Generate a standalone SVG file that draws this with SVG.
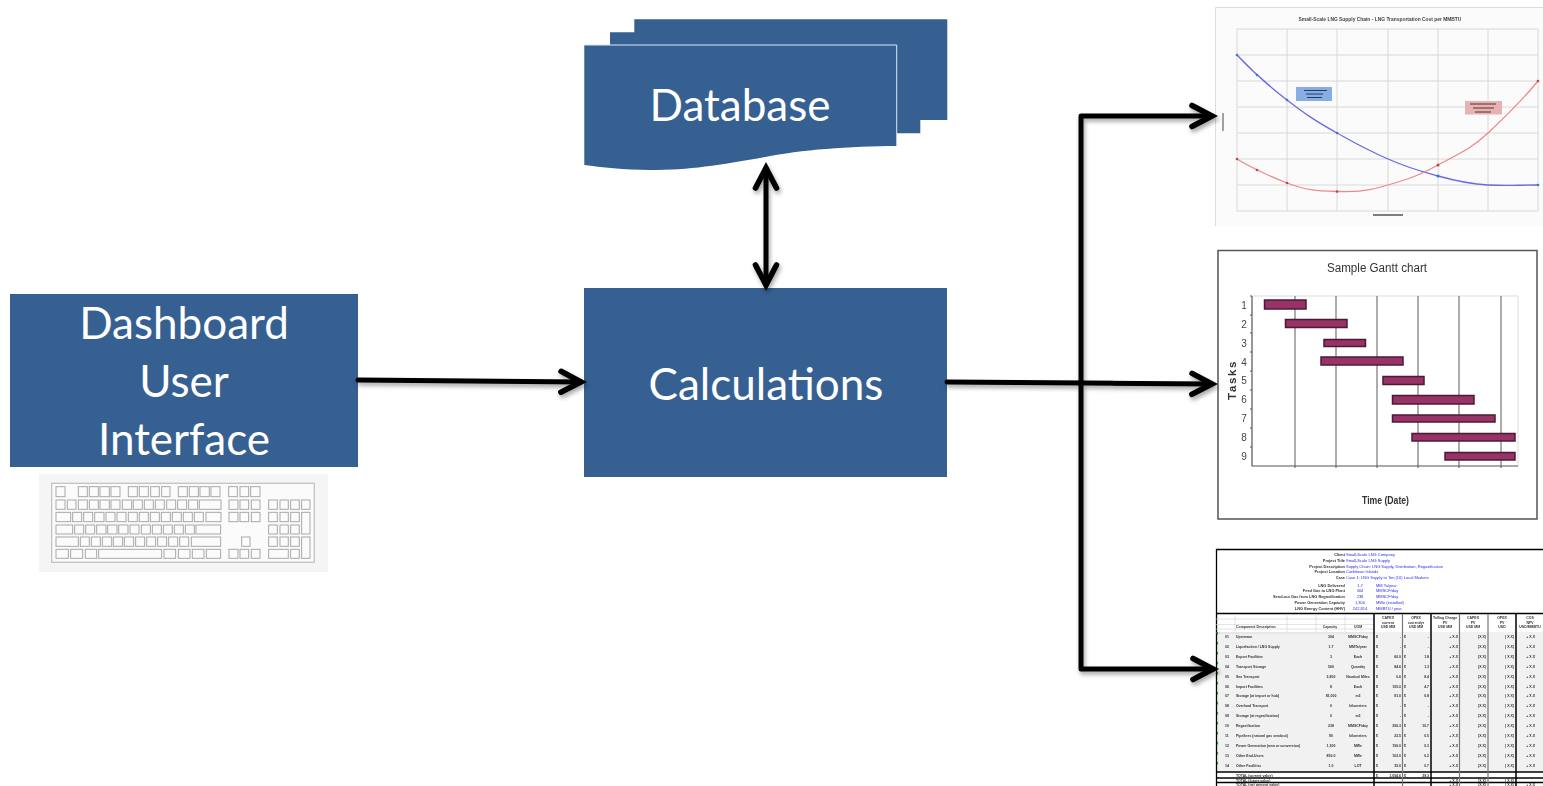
<svg xmlns="http://www.w3.org/2000/svg" width="1543" height="786" viewBox="0 0 1543 786">
<style>
.box{fill:#366092}
.lbl{font-family:Lato,"Open Sans",sans-serif;font-size:44px;fill:#fff;text-anchor:middle}
.wire{fill:none;stroke:#000;stroke-width:5;stroke-linejoin:round;stroke-linecap:round}
.k{fill:none;stroke:#a8a8a8;stroke-width:3}
.grid{stroke:#d8d8d8;stroke-width:1;fill:none}
.bar{fill:#993366;stroke:#4a1b36;stroke-width:1.500}
.gl{stroke:#8a8a8a;stroke-width:1.400}
.gt{font-family:"Liberation Sans",Arial,sans-serif;fill:#333}
.n{font-size:10px;text-anchor:middle;fill:#444}
.s{font-family:"Liberation Sans",Arial,sans-serif;font-size:3.500px;font-weight:700;fill:#333}
.m{text-anchor:middle}.r{text-anchor:end}
.h{font-size:3.900px}.b{fill:#2a2af0;font-size:4px;font-weight:400}
.bl{stroke:#000;stroke-width:1.300;fill:none}.gy{stroke:#777;stroke-width:1.200;fill:none}.lg{stroke:#d0d0d0;stroke-width:.6;fill:none}
</style>
<defs>
<marker id="head" markerUnits="userSpaceOnUse" viewBox="-26 -15 30 30" refX="0" refY="0" markerWidth="30" markerHeight="30" orient="auto-start-reverse" overflow="visible">
<path d="M-20-10.500L0 0L-20 10.500" fill="none" stroke="#000" stroke-width="5.600" stroke-linecap="round" stroke-linejoin="miter"/>
</marker>
<filter id="shadow" x="-10%" y="-10%" width="120%" height="125%"><feDropShadow dx="1.500" dy="3" stdDeviation="2" flood-color="#000" flood-opacity=".35"/></filter>
<filter id="soft" x="-2%" y="-2%" width="104%" height="104%"><feGaussianBlur stdDeviation=".55"/></filter>
<filter id="soft2" x="-2%" y="-2%" width="104%" height="104%"><feGaussianBlur stdDeviation=".4"/></filter>
</defs>
<rect width="1543" height="786" fill="#fff"/>

<g id="chart-cost" filter="url(#soft)">
<rect x="1215" y="7" width="328" height="219" fill="#fbfbfb"/>
<path d="M1215.500 226V7.500H1543" fill="none" stroke="#ddd"/>
<path class="grid" d="M1237 29V211M1287 29V211M1337 29V211M1388 29V211M1438 29V211M1488 29V211M1538 29V211M1237 29H1538M1237 55H1538M1237 81H1538M1237 107H1538M1237 133H1538M1237 159H1538M1237 185H1538M1237 211H1538"/>
<text x="1380" y="21" text-anchor="middle" font-family="Liberation Sans,Arial,sans-serif" font-size="4.900" font-weight="700" fill="#444">Small-Scale LNG Supply Chain - LNG Transportation Cost per MMBTU</text>
<path d="M1237 55C1252 71 1270 87 1287 100S1312 119 1337 133S1365 149 1388 159S1420 171 1438 176S1470 184 1488 185S1520 185 1538 185" fill="none" stroke="#6a6ae4" stroke-width="1.300"/>
<path d="M1237 159C1245 164 1268 176 1287 183S1315 191 1337 191.500S1367 191 1388 185S1420 175 1438 165S1470 150 1488 133S1520 103 1538 81" fill="none" stroke="#ec8a8a" stroke-width="1.300"/>
<g fill="#3d78c8"><circle cx="1237" cy="55" r="1.300"/><circle cx="1257" cy="75" r="1.300"/><circle cx="1287" cy="100" r="1.300"/><circle cx="1337" cy="133" r="1.300"/><circle cx="1438" cy="176" r="1.600"/><circle cx="1538" cy="185" r="1.300"/></g>
<g fill="#c04444"><circle cx="1237" cy="159" r="1.300"/><circle cx="1257" cy="170" r="1.300"/><circle cx="1287" cy="183" r="1.300"/><circle cx="1337" cy="191.500" r="1.300"/><circle cx="1438" cy="165" r="1.500"/><circle cx="1538" cy="81" r="1.300"/></g>
<rect x="1296" y="87" width="36" height="14" fill="#86aee4"/>
<path d="M1304 90.500H1327M1306 94H1323M1307 97.500H1322" stroke="#2c3e60" stroke-width="1"/>
<rect x="1465" y="101" width="37" height="13.500" fill="#e6b2b2"/>
<path d="M1470 104H1496M1473 108H1494M1475 112H1491" stroke="#5c3030" stroke-width="1"/>
<path d="M1223 113V131" stroke="#666" stroke-width="1.200"/>
<path d="M1373 215H1403" stroke="#555" stroke-width="1.500"/>
</g>

<g id="chart-gantt" filter="url(#soft2)">
<rect x="1218" y="250.500" width="319" height="268.500" fill="#fff" stroke="#555" stroke-width="1.500"/>
<text class="gt" x="1377" y="272" font-size="12.500" text-anchor="middle" textLength="100" lengthAdjust="spacingAndGlyphs">Sample Gantt chart</text>
<path d="M1252 296H1518V466" fill="none" stroke="#ddd"/>
<path class="gl" d="M1295 296V466M1336 296V466M1377 296V466M1418 296V466M1459 296V466M1501 296V466"/>
<path d="M1252 296V466H1518" fill="none" stroke="#555" stroke-width="1.200"/>
<path d="M1250 296H1252M1250 315H1252M1250 333H1252M1250 352H1252M1250 371H1252M1250 390H1252M1250 409H1252M1250 428H1252M1250 447H1252M1295 466V468M1336 466V468M1377 466V468M1418 466V468M1459 466V468M1501 466V468" stroke="#555" stroke-width="1"/>
<rect class="bar" x="1264.500" y="300" width="41.500" height="9"/>
<rect class="bar" x="1285.500" y="319.500" width="61.500" height="8"/>
<rect class="bar" x="1324" y="339.500" width="41.500" height="7"/>
<rect class="bar" x="1321" y="357" width="82" height="8"/>
<rect class="bar" x="1383" y="376.500" width="41" height="8"/>
<rect class="bar" x="1392.500" y="395.500" width="81.500" height="8.500"/>
<rect class="bar" x="1392.500" y="415" width="102.500" height="7"/>
<rect class="bar" x="1412" y="433.500" width="103" height="7.500"/>
<rect class="bar" x="1445" y="452.500" width="70" height="7.500"/>
<g class="gt">
<text class="n" x="1244" y="309">1</text><text class="n" x="1244" y="328">2</text><text class="n" x="1244" y="347">3</text><text class="n" x="1244" y="366">4</text><text class="n" x="1244" y="384">5</text><text class="n" x="1244" y="403">6</text><text class="n" x="1244" y="422">7</text><text class="n" x="1244" y="441">8</text><text class="n" x="1244" y="460">9</text>
</g>
<text class="gt" x="0" y="0" transform="translate(1236 380) rotate(-90)" font-size="11.500" font-weight="700" letter-spacing="1.600" text-anchor="middle">Tasks</text>
<text class="gt" x="1385.500" y="504" font-size="11" font-weight="700" text-anchor="middle" textLength="47" lengthAdjust="spacingAndGlyphs">Time (Date)</text>
</g>

<g id="table-cost" filter="url(#soft2)">
<rect x="1216" y="549" width="327" height="237" fill="#fff"/>
<rect x="1216" y="632" width="327" height="139" fill="#f1f1f1"/>
<path class="bl" d="M1216.500 786V549.500H1543M1216 613.500H1543M1216 772H1543M1216 778H1543M1216 782.500H1543"/>
<path class="lg" d="M1235 614V632M1287 614V632M1316 614V632M1345 614V632M1216 619H1374M1216 624.500H1374M1216 629H1374M1216 633H1374"/>
<path d="M1374 614V786M1431 614V786M1516 614V786" stroke="#000" stroke-width="1.500"/>
<path class="gy" d="M1402.500 614V786M1459.500 614V786M1488 614V786"/>
<g class="s h r">
<text x="1345" y="556">Client</text><text x="1345" y="561.500">Project Title</text><text x="1345" y="567.500">Project Description</text><text x="1345" y="573">Project Location</text><text x="1345" y="578.500">Case</text>
<text x="1345" y="586.500">LNG Delivered</text><text x="1345" y="592">Feed Gas to LNG Plant</text><text x="1345" y="598">Send-out Gas from LNG Regasification</text><text x="1345" y="604">Power Generation Capacity</text><text x="1345" y="609.500">LNG Energy Content (HHV)</text>
</g>
<g class="s b">
<text x="1346" y="556">Small-Scale LNG Company</text><text x="1346" y="561.500">Small-Scale LNG Supply</text><text x="1346" y="567.500">Supply Chain:  LNG Supply, Distribution, Regasification</text><text x="1346" y="573">Caribbean Islands</text><text x="1346" y="578.500">Case 1:  LNG Supply to Ten (10) Local Markets</text>
<text class="m" x="1360" y="586.500">1.7</text><text class="m" x="1360" y="592">304</text><text class="m" x="1360" y="598">238</text><text class="m" x="1360" y="604">1,300</text><text class="m" x="1360" y="609.500">242,814</text>
<text x="1376" y="586.500">MM Ta/year</text><text x="1376" y="592">MMSCF/day</text><text x="1376" y="598">MMSCF/day</text><text x="1376" y="604">MWe (installed)</text><text x="1376" y="609.500">MMBTU / year</text>
</g>
<g class="s m">
<text x="1388" y="618.500">CAPEX</text><text x="1388" y="623.500">current</text><text x="1388" y="628">USD MM</text>
<text x="1416" y="618.500">OPEX</text><text x="1416" y="623.500">current/yr</text><text x="1416" y="628">USD MM</text>
<text x="1445" y="618.500">Tolling Charge</text><text x="1445" y="623.500">PV</text><text x="1445" y="628">USD MM</text>
<text x="1473" y="618.500">CAPEX</text><text x="1473" y="623.500">PV</text><text x="1473" y="628">USD MM</text>
<text x="1502" y="618.500">OPEX</text><text x="1502" y="623.500">PV</text><text x="1502" y="628">USD</text>
<text x="1530" y="618.500">COS</text><text x="1530" y="623.500">NPV</text><text x="1530" y="628">USD/MMBTU</text>
<text x="1330" y="628">Capacity</text><text x="1358" y="628">UOM</text>
</g>
<text class="s" x="1236" y="628">Component Description</text>
<path d="M1217.500 632v2.500M1217.500 642v2.500M1217.500 652v2.500M1217.500 662v2.500M1217.500 672v2.500M1217.500 682v2.500M1217.500 692v2.500M1217.500 702v2.500M1217.500 712v2.500M1217.500 722v2.500M1217.500 732v2.500M1217.500 742v2.500M1217.500 752v2.500M1217.500 762v2.500" stroke="#1a9a1a" stroke-width="1.200"/>

<g class="s" transform="translate(0 638)"><text x="1225">01</text><text x="1236">Upstream</text><text class="m" x="1331">304</text><text class="m" x="1358">MMSCF/day</text><text x="1376">$</text><text class="r" x="1401">-</text><text x="1404">$</text><text class="r" x="1429">-</text><text class="r" x="1458">+ X.X</text><text class="r" x="1486">(X.X)</text><text class="r" x="1514">( X.X)</text><text class="r" x="1535">+ X.X</text></g>
<g class="s" transform="translate(0 648)"><text x="1225">02</text><text x="1236">Liquefaction / LNG Supply</text><text class="m" x="1331">1.7</text><text class="m" x="1358">MMTa/year</text><text x="1376">$</text><text class="r" x="1401">-</text><text x="1404">$</text><text class="r" x="1429">-</text><text class="r" x="1458">+ X.X</text><text class="r" x="1486">(X.X)</text><text class="r" x="1514">( X.X)</text><text class="r" x="1535">+ X.X</text></g>
<g class="s" transform="translate(0 658)"><text x="1225">03</text><text x="1236">Export Facilities</text><text class="m" x="1331">3</text><text class="m" x="1358">Each</text><text x="1376">$</text><text class="r" x="1401">60.0</text><text x="1404">$</text><text class="r" x="1429">1.8</text><text class="r" x="1458">+ X.X</text><text class="r" x="1486">(X.X)</text><text class="r" x="1514">( X.X)</text><text class="r" x="1535">+ X.X</text></g>
<g class="s" transform="translate(0 668)"><text x="1225">04</text><text x="1236">Transport Storage</text><text class="m" x="1331">560</text><text class="m" x="1358">Quantity</text><text x="1376">$</text><text class="r" x="1401">84.6</text><text x="1404">$</text><text class="r" x="1429">1.3</text><text class="r" x="1458">+ X.X</text><text class="r" x="1486">(X.X)</text><text class="r" x="1514">( X.X)</text><text class="r" x="1535">+ X.X</text></g>
<g class="s" transform="translate(0 678)"><text x="1225">05</text><text x="1236">Sea Transport</text><text class="m" x="1331">2,800</text><text class="m" x="1358">Nautical Miles</text><text x="1376">$</text><text class="r" x="1401">0.6</text><text x="1404">$</text><text class="r" x="1429">8.4</text><text class="r" x="1458">+ X.X</text><text class="r" x="1486">(X.X)</text><text class="r" x="1514">( X.X)</text><text class="r" x="1535">+ X.X</text></g>
<g class="s" transform="translate(0 688)"><text x="1225">06</text><text x="1236">Import Facilities</text><text class="m" x="1331">8</text><text class="m" x="1358">Each</text><text x="1376">$</text><text class="r" x="1401">155.0</text><text x="1404">$</text><text class="r" x="1429">4.7</text><text class="r" x="1458">+ X.X</text><text class="r" x="1486">(X.X)</text><text class="r" x="1514">( X.X)</text><text class="r" x="1535">+ X.X</text></g>
<g class="s" transform="translate(0 697)"><text x="1225">07</text><text x="1236">Storage (at import or hub)</text><text class="m" x="1331">81,000</text><text class="m" x="1358">m3</text><text x="1376">$</text><text class="r" x="1401">81.0</text><text x="1404">$</text><text class="r" x="1429">0.8</text><text class="r" x="1458">+ X.X</text><text class="r" x="1486">(X.X)</text><text class="r" x="1514">( X.X)</text><text class="r" x="1535">+ X.X</text></g>
<g class="s" transform="translate(0 707)"><text x="1225">08</text><text x="1236">Overland Transport</text><text class="m" x="1331">0</text><text class="m" x="1358">kilometers</text><text x="1376">$</text><text class="r" x="1401">-</text><text x="1404">$</text><text class="r" x="1429">-</text><text class="r" x="1458">+ X.X</text><text class="r" x="1486">(X.X)</text><text class="r" x="1514">( X.X)</text><text class="r" x="1535">+ X.X</text></g>
<g class="s" transform="translate(0 717)"><text x="1225">09</text><text x="1236">Storage (at regasification)</text><text class="m" x="1331">0</text><text class="m" x="1358">m3</text><text x="1376">$</text><text class="r" x="1401">-</text><text x="1404">$</text><text class="r" x="1429">-</text><text class="r" x="1458">+ X.X</text><text class="r" x="1486">(X.X)</text><text class="r" x="1514">( X.X)</text><text class="r" x="1535">+ X.X</text></g>
<g class="s" transform="translate(0 727)"><text x="1225">10</text><text x="1236">Regasification</text><text class="m" x="1331">238</text><text class="m" x="1358">MMSCF/day</text><text x="1376">$</text><text class="r" x="1401">356.3</text><text x="1404">$</text><text class="r" x="1429">10.7</text><text class="r" x="1458">+ X.X</text><text class="r" x="1486">(X.X)</text><text class="r" x="1514">( X.X)</text><text class="r" x="1535">+ X.X</text></g>
<g class="s" transform="translate(0 737)"><text x="1225">11</text><text x="1236">Pipelines (natural gas sendout)</text><text class="m" x="1331">90</text><text class="m" x="1358">kilometers</text><text x="1376">$</text><text class="r" x="1401">22.5</text><text x="1404">$</text><text class="r" x="1429">0.5</text><text class="r" x="1458">+ X.X</text><text class="r" x="1486">(X.X)</text><text class="r" x="1514">( X.X)</text><text class="r" x="1535">+ X.X</text></g>
<g class="s" transform="translate(0 747)"><text x="1225">12</text><text x="1236">Power Generation (new or conversion)</text><text class="m" x="1331">1,300</text><text class="m" x="1358">MWe</text><text x="1376">$</text><text class="r" x="1401">156.0</text><text x="1404">$</text><text class="r" x="1429">0.3</text><text class="r" x="1458">+ X.X</text><text class="r" x="1486">(X.X)</text><text class="r" x="1514">( X.X)</text><text class="r" x="1535">+ X.X</text></g>
<g class="s" transform="translate(0 757)"><text x="1225">13</text><text x="1236">Other End-Users</text><text class="m" x="1331">850.0</text><text class="m" x="1358">MWe</text><text x="1376">$</text><text class="r" x="1401">102.0</text><text x="1404">$</text><text class="r" x="1429">0.2</text><text class="r" x="1458">+ X.X</text><text class="r" x="1486">(X.X)</text><text class="r" x="1514">( X.X)</text><text class="r" x="1535">+ X.X</text></g>
<g class="s" transform="translate(0 767)"><text x="1225">14</text><text x="1236">Other Facilities</text><text class="m" x="1331">1.0</text><text class="m" x="1358">LOT</text><text x="1376">$</text><text class="r" x="1401">35.0</text><text x="1404">$</text><text class="r" x="1429">0.7</text><text class="r" x="1458">+ X.X</text><text class="r" x="1486">(X.X)</text><text class="r" x="1514">( X.X)</text><text class="r" x="1535">+ X.X</text></g>
<g class="s" transform="translate(0 776.500)"><text x="1236">TOTAL (current value)</text><text x="1376">$</text><text class="r" x="1401">1,054.6</text><text x="1404">$</text><text class="r" x="1429">29.3</text></g>
<g class="s" transform="translate(0 781.500)"><text x="1236">TOTAL (future value)</text><text class="r" x="1458">+ X.X</text><text class="r" x="1486">(X.X)</text><text class="r" x="1514">( X.X)</text></g>
<g class="s" transform="translate(0 786)"><text x="1236">TOTAL (net present value)</text><text class="r" x="1458">+ X.X</text><text class="r" x="1486">(X.X)</text><text class="r" x="1514">( X.X)</text><text class="r" x="1535">+ X.X</text></g>
</g>

<g id="keyboard">
<rect x="39" y="474" width="289" height="98" fill="#f5f5f5"/>
<g transform="translate(30 470) scale(.3333)" filter="url(#soft)">
<rect x="65" y="40" width="788" height="237" fill="#fbfbfb" stroke="#c4c4c4" stroke-width="4"/>
<g class="k">
<rect x="78" y="50" width="27" height="30"/><rect x="145" y="50" width="27" height="30"/><rect x="178" y="50" width="27" height="30"/><rect x="210" y="50" width="28" height="30"/><rect x="243" y="50" width="27" height="30"/><rect x="295" y="50" width="27" height="30"/><rect x="328" y="50" width="27" height="30"/><rect x="362" y="50" width="26" height="30"/><rect x="395" y="50" width="25" height="30"/><rect x="445" y="50" width="27" height="30"/><rect x="478" y="50" width="27" height="30"/><rect x="510" y="50" width="28" height="30"/><rect x="543" y="50" width="27" height="30"/><rect x="596" y="50" width="26" height="30"/><rect x="630" y="50" width="26" height="30"/><rect x="662" y="50" width="28" height="30"/>
<rect x="78" y="90" width="27" height="28"/><rect x="112" y="90" width="26" height="28"/><rect x="145" y="90" width="27" height="28"/><rect x="178" y="90" width="27" height="28"/><rect x="210" y="90" width="28" height="28"/><rect x="243" y="90" width="27" height="28"/><rect x="277" y="90" width="28" height="28"/><rect x="310" y="90" width="27" height="28"/><rect x="343" y="90" width="27" height="28"/><rect x="376" y="90" width="27" height="28"/><rect x="410" y="90" width="27" height="28"/><rect x="443" y="90" width="27" height="28"/><rect x="476" y="90" width="27" height="28"/><rect x="508" y="90" width="65" height="28"/><rect x="597" y="90" width="27" height="28"/><rect x="630" y="90" width="26" height="28"/><rect x="664" y="90" width="26" height="28"/><rect x="716" y="90" width="26" height="28"/><rect x="750" y="90" width="25" height="28"/><rect x="782" y="90" width="26" height="28"/><rect x="815" y="90" width="25" height="28"/>
<rect x="78" y="127" width="44" height="28"/><rect x="128" y="127" width="27" height="28"/><rect x="161" y="127" width="27" height="28"/><rect x="194" y="127" width="28" height="28"/><rect x="228" y="127" width="27" height="28"/><rect x="261" y="127" width="27" height="28"/><rect x="295" y="127" width="27" height="28"/><rect x="328" y="127" width="27" height="28"/><rect x="361" y="127" width="27" height="28"/><rect x="394" y="127" width="27" height="28"/><rect x="427" y="127" width="27" height="28"/><rect x="460" y="127" width="27" height="28"/><rect x="493" y="127" width="27" height="28"/><rect x="528" y="127" width="45" height="28"/><rect x="597" y="127" width="27" height="28"/><rect x="630" y="127" width="26" height="28"/><rect x="664" y="127" width="26" height="28"/><rect x="716" y="127" width="26" height="28"/><rect x="750" y="127" width="25" height="28"/><rect x="782" y="127" width="26" height="28"/><rect x="815" y="127" width="25" height="65"/>
<rect x="78" y="165" width="50" height="27"/><rect x="134" y="165" width="27" height="27"/><rect x="167" y="165" width="27" height="27"/><rect x="200" y="165" width="28" height="27"/><rect x="233" y="165" width="28" height="27"/><rect x="266" y="165" width="28" height="27"/><rect x="300" y="165" width="27" height="27"/><rect x="334" y="165" width="27" height="27"/><rect x="367" y="165" width="27" height="27"/><rect x="400" y="165" width="27" height="27"/><rect x="433" y="165" width="27" height="27"/><rect x="466" y="165" width="27" height="27"/><rect x="498" y="165" width="74" height="27"/><rect x="716" y="165" width="26" height="27"/><rect x="750" y="165" width="25" height="27"/><rect x="782" y="165" width="26" height="27"/>
<rect x="78" y="201" width="67" height="28"/><rect x="151" y="201" width="27" height="28"/><rect x="184" y="201" width="27" height="28"/><rect x="217" y="201" width="28" height="28"/><rect x="250" y="201" width="28" height="28"/><rect x="283" y="201" width="28" height="28"/><rect x="317" y="201" width="27" height="28"/><rect x="350" y="201" width="27" height="28"/><rect x="383" y="201" width="27" height="28"/><rect x="416" y="201" width="27" height="28"/><rect x="449" y="201" width="27" height="28"/><rect x="484" y="201" width="88" height="28"/><rect x="635" y="201" width="25" height="28"/><rect x="716" y="201" width="26" height="28"/><rect x="750" y="201" width="25" height="28"/><rect x="782" y="201" width="26" height="28"/><rect x="815" y="201" width="25" height="64"/>
<rect x="78" y="238" width="37" height="27"/><rect x="122" y="238" width="36" height="27"/><rect x="166" y="238" width="34" height="27"/><rect x="206" y="238" width="189" height="27"/><rect x="402" y="238" width="35" height="27"/><rect x="445" y="238" width="35" height="27"/><rect x="487" y="238" width="35" height="27"/><rect x="529" y="238" width="43" height="27"/><rect x="597" y="238" width="27" height="27"/><rect x="630" y="238" width="26" height="27"/><rect x="664" y="238" width="26" height="27"/><rect x="716" y="238" width="59" height="27"/><rect x="782" y="238" width="26" height="27"/>
</g>
</g>
</g>

<g id="dashboard">
<rect class="box" x="10" y="294" width="348" height="173"/>
<text class="lbl" x="184" y="339">Dashboard</text>
<text class="lbl" x="184" y="397">User</text>
<text class="lbl" x="184" y="455">Interface</text>
</g>

<g id="database">
<path class="box" d="M634.300 19.300H947.300V120H920.300V133.300H897V146H610V32.300H634.300Z"/>
<path class="box" d="M584.300 45H896.700V146C850 146 800 150 765 157C720 165 690 170 650 170C625 170 600 167 584.300 165Z"/>
<path d="M584.300 45H896.700V146" fill="none" stroke="#dce6f2" stroke-width="1"/>
<text class="lbl" x="740" y="121">Database</text>
</g>

<g id="calculations">
<rect class="box" x="584" y="288" width="363" height="189"/>
<text class="lbl" x="766" y="400">Calculations</text>
</g>

<g id="connectors" filter="url(#shadow)">
<path class="wire" marker-end="url(#head)" d="M358 380L581 382"/>
<path class="wire" marker-start="url(#head)" marker-end="url(#head)" d="M766 168V285"/>
<path class="wire" marker-end="url(#head)" d="M947 382L1212 384"/>
<path class="wire" marker-start="url(#head)" marker-end="url(#head)" d="M1212 116H1081V669H1213"/>
</g>
</svg>
